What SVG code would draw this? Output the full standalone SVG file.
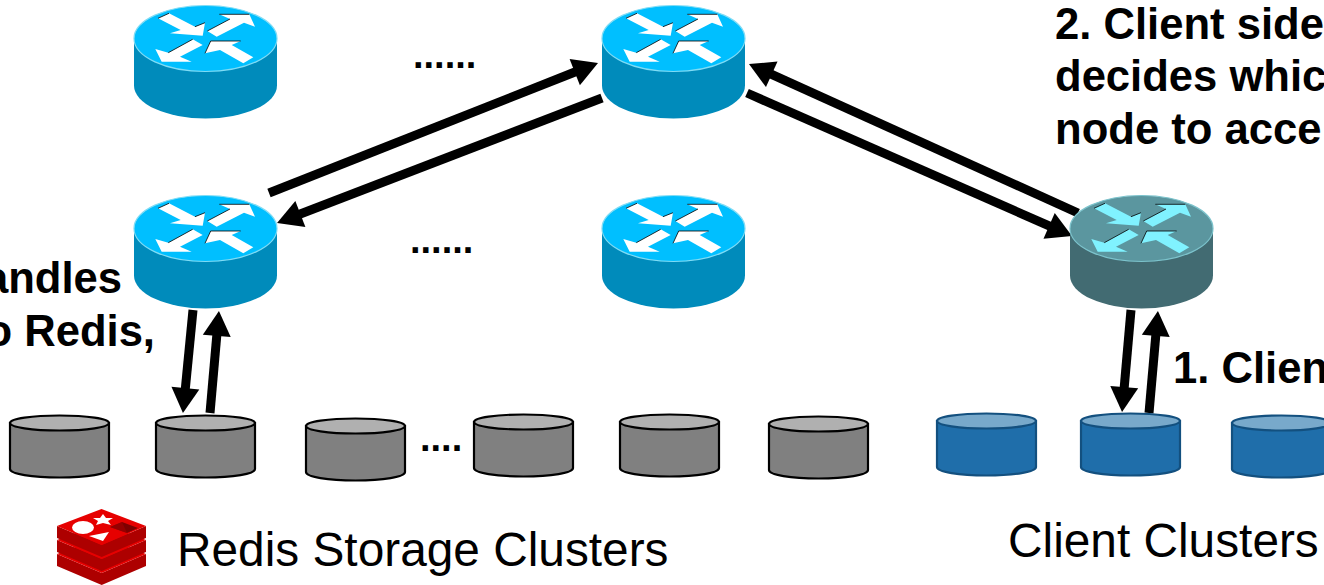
<svg xmlns="http://www.w3.org/2000/svg" xmlns:xlink="http://www.w3.org/1999/xlink" width="1324" height="585" viewBox="0 0 1324 585">
<style>
.t{font-family:"Liberation Sans",Arial,Helvetica,sans-serif;fill:#000}
.b{font-size:43.600px;font-weight:700}
.d{font-size:38px;font-weight:700}
.n{font-size:47.800px}
.c{fill:none;stroke:#000;stroke-width:9;marker-end:url(#ah)}
.rb{fill:var(--body)}
.rt{fill:var(--top);stroke:var(--edge);stroke-width:1.2}
.ra{fill:var(--arrow)}
.rs{fill:none;stroke:#000;stroke-width:.8}
.blue{--body:#008bbb;--top:#00bfff;--edge:#7fdcf5;--arrow:#fff}
.teal{--body:#426b72;--top:#5b969f;--edge:#7cc3cc;--arrow:#80f2ff}
.cy-g{--cb:#808080;--ct:#b0b0b0;--cs:#000}
.cy-b{--cb:#1f6eaa;--ct:#78a9cb;--cs:#13507f}
.cb{fill:var(--cb);stroke:var(--cs);stroke-width:2.2}
.ct{fill:var(--ct);stroke:var(--cs);stroke-width:2.2}
.lf{fill:#e60000}
.ls{fill:#ad0000}
</style>
<defs>
<marker id="ah" markerUnits="userSpaceOnUse" markerWidth="25" markerHeight="28" refX="5" refY="14" orient="auto" overflow="visible"><path d="M0,0L25,14L0,28Z" fill="#000"/></marker>
<g id="router">
<path class="rb" d="M0,33.5V80.5A71.5,33 0 0 0 143,80.5V33.5Z"/>
<ellipse class="rt" cx="71.5" cy="33.5" rx="71.5" ry="33"/>
<path class="ra" d="M24,13.3L35,8.3L61,21.7L71,17.7L68.700,30.700L36,28.300L46.700,25Z"/>
<path class="ra" d="M73.300,26L96,14L85.300,9.300L115.300,9.300L121,21.700L110,17.700L82.700,31.700Z"/>
<path class="ra" d="M68.700,40L58.700,34.300L34.300,47.700L21.300,44L27.700,56.700L57.700,56.700L46,51.700Z"/>
<path class="ra" d="M71,48.300L76.700,36L106.700,36L97.700,40L119.300,52.300L109.300,58.300L86,45Z"/>
<path class="rs" d="M24,13.3L35,8.300M61,21.700L71,17.700M73.300,26L96,14M85.300,9.300H115.300M58.700,34.300L34.300,47.700M71,48.300L76.700,36H106.700"/>
</g>
<g id="cyl">
<path class="cb" d="M0,8V54C0,59 22,62.500 49.500,62.500S99,59 99,54V8Z"/>
<ellipse class="ct" cx="49.500" cy="8" rx="49.500" ry="7.500"/>
</g>
<path id="layer" class="ls" d="M57,526L101.700,545L146,526V538L101.700,557L57,538Z"/>
<path id="face" class="lf" d="M57,526L101.500,509L146,526L101.700,545Z"/>
</defs>

<g id="connectors">
<line class="c" x1="269" y1="193" x2="579.400" y2="70.300"/>
<line class="c" x1="602" y1="98" x2="295.700" y2="215.800"/>
<line class="c" x1="1078" y1="213" x2="767.200" y2="72.300"/>
<line class="c" x1="747" y1="93" x2="1053.700" y2="227.900"/>
<line class="c" x1="193" y1="310" x2="184.900" y2="393.100"/>
<line class="c" x1="210" y1="413" x2="217.200" y2="330.900"/>
<line class="c" x1="1131" y1="310" x2="1123.800" y2="392.100"/>
<line class="c" x1="1149" y1="413" x2="1156.200" y2="330.900"/>
</g>

<g id="router-1" class="blue"><use href="#router" x="134" y="5"/></g>
<g id="router-2" class="blue"><use href="#router" x="602" y="5"/></g>
<g id="router-3" class="blue"><use href="#router" x="134" y="195"/></g>
<g id="router-4" class="blue"><use href="#router" x="602" y="195"/></g>
<g id="router-5" class="teal"><use href="#router" x="1070" y="195"/></g>

<g id="storage-1" class="cy-g"><use href="#cyl" x="10" y="415"/></g>
<g id="storage-2" class="cy-g"><use href="#cyl" x="156" y="415"/></g>
<g id="storage-3" class="cy-g"><use href="#cyl" x="306" y="418"/></g>
<g id="storage-4" class="cy-g"><use href="#cyl" x="474" y="414"/></g>
<g id="storage-5" class="cy-g"><use href="#cyl" x="620" y="414"/></g>
<g id="storage-6" class="cy-g"><use href="#cyl" x="769" y="416"/></g>
<g id="client-1" class="cy-b"><use href="#cyl" x="937" y="413"/></g>
<g id="client-2" class="cy-b"><use href="#cyl" x="1081" y="413"/></g>
<g id="client-3" class="cy-b"><use href="#cyl" x="1232" y="415"/></g>

<g id="redis-logo">
<use href="#layer" y="28"/><use href="#face" y="28"/>
<use href="#layer" y="14"/><use href="#face" y="14"/>
<use href="#layer"/><use href="#face"/>
<polygon points="103,514 106,518 113,518 108,521 111,525 103,523 96,525 98,521 93,518 100,518" fill="#fff"/>
<ellipse cx="83" cy="527.500" rx="11" ry="6.500" fill="#fff"/>
<polygon points="89,536 109,532 103,541" fill="#fff"/>
<polygon points="110,527 122,522 138,528 127,533" fill="#7d0000"/>
<polygon points="110,527 122,522 127,533" fill="#a40000" opacity=".6"/>
</g>

<g id="labels">
<text class="t d" x="413" y="68">......</text>
<text class="t d" x="410" y="253">......</text>
<text class="t d" x="420" y="451">....</text>
<text class="t b" x="1055" y="39">2. Client side</text>
<text class="t b" x="1055" y="91">decides whic</text>
<text class="t b" x="1055" y="144">node to acce</text>
<text class="t b" x="1173" y="383">1. Clien</text>
<text class="t b" x="122" y="293" text-anchor="end">andles</text>
<text class="t b" x="155" y="346" text-anchor="end">o Redis,</text>
<text class="t n" x="177" y="566">Redis Storage Clusters</text>
<text class="t n" x="1008" y="557">Client Clusters</text>
</g>
</svg>
